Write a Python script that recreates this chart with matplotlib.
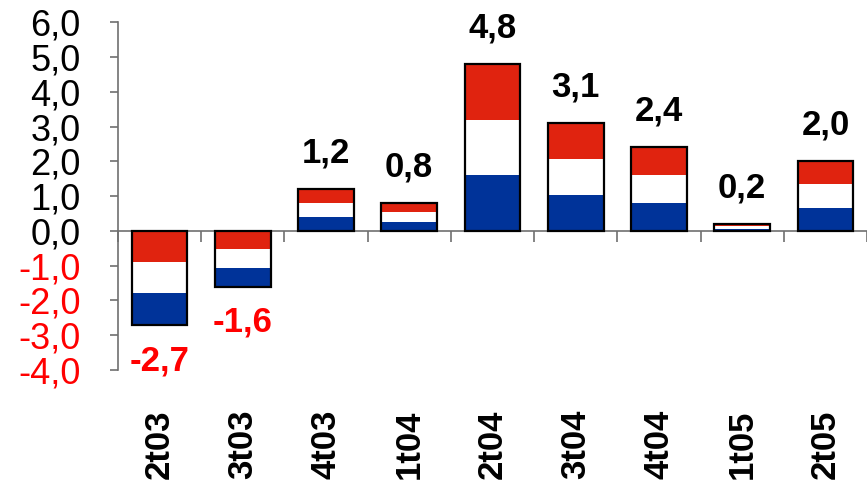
import numpy as np
import matplotlib.pyplot as plt
from matplotlib import transforms

plt.rcParams['font.family'] = ['Liberation Sans', 'DejaVu Sans']

# data
categories = ['2t03', '3t03', '4t03', '1t04', '2t04', '3t04', '4t04', '1t05', '2t05']
values = [-2.7, -1.6, 1.2, 0.8, 4.8, 3.1, 2.4, 0.2, 2.0]
yticks = [-4, -3, -2, -1, 0, 1, 2, 3, 4, 5, 6]

RED = '#E0230F'
BLUE = '#003399'
NEG = '#FF0000'

fig = plt.figure(figsize=(8.67, 4.93), dpi=100)
ax = fig.add_axes([0.136, 0.2495, 0.864, 0.7055])

x = np.arange(len(categories))
vals = np.array(values)
third = vals / 3
width = 0.67

# dutch flag bands: red at the zero end for negatives, at the top for positives
for k in range(3):
    cols = []
    for v in vals:
        order = [BLUE, 'white', RED] if v >= 0 else [RED, 'white', BLUE]
        cols.append(order[k])
    ax.bar(x, third, bottom=k * third, width=width, color=cols, linewidth=0, zorder=2)
ax.bar(x, vals, width=width, fill=False, edgecolor='black', linewidth=1.6, zorder=3)

# value labels
for xi, v in zip(x, vals):
    txt = f'{v:.1f}'.replace('.', ',')
    if v >= 0:
        ax.annotate(txt, (xi, v), xytext=(0, 14), textcoords='offset points',
                    ha='center', va='bottom', fontsize=25, fontweight='bold', color='black',
                    annotation_clip=False)
    else:
        ax.annotate(txt, (xi, v), xytext=(0, -14), textcoords='offset points',
                    ha='center', va='top', fontsize=25, fontweight='bold', color=NEG)

# category labels at the bottom
trans = transforms.blended_transform_factory(ax.transData, ax.transAxes)
for xi, c in zip(x, categories):
    ax.text(xi, -0.115, c, rotation=90, ha='center', va='top', transform=trans,
            fontsize=25, fontweight='bold')

ax.set_xlim(-0.5, len(categories) - 0.5)
ax.set_ylim(-4, 6)

ax.set_yticks(yticks)
ax.set_yticklabels([f'{t:.1f}'.replace('.', ',') for t in yticks])
for lab, t in zip(ax.get_yticklabels(), yticks):
    lab.set_color(NEG if t < 0 else 'black')
ax.tick_params(axis='y', direction='out', length=6, width=1.2, color='#707070',
               pad=21, labelsize=26)

ax.set_xticks(x)
ax.set_xticklabels([])
ax.set_xticks(np.arange(len(categories) + 1) - 0.5, minor=True)
ax.tick_params(axis='x', which='major', length=0)
ax.tick_params(axis='x', which='minor', direction='out', length=8, width=1.2, color='#707070')

ax.spines['top'].set_visible(False)
ax.spines['right'].set_visible(False)
ax.spines['bottom'].set_position(('data', 0))
ax.spines['bottom'].set_color('#707070')
ax.spines['bottom'].set_linewidth(1.2)
ax.spines['left'].set_color('#707070')
ax.spines['left'].set_linewidth(1.2)

fig.savefig('out.png', dpi=100)
